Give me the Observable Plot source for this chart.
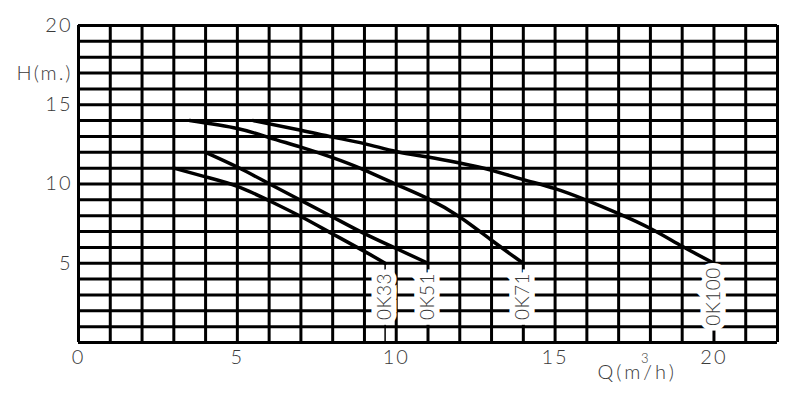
<!DOCTYPE html>
<html>
<head>
<meta charset="utf-8">
<script src="https://cdn.jsdelivr.net/npm/d3@7"></script>
<script src="https://cdn.jsdelivr.net/npm/@observablehq/plot@0.6"></script>
<style>
  html, body { margin: 0; padding: 0; background: #fff; }
  #chart svg { display: block; }
  #chart svg text { font-weight: 300; letter-spacing: 2px; }
  #chart svg g.curve-labels text { letter-spacing: 0.5px; }
  #chart svg g.q-label text { letter-spacing: 3px; }
</style>
</head>
<body>
<div id="chart"></div>
<script>
// Grid / tick values
const xGrid = [0,1,2,3,4,5,6,7,8,9,10,11,12,13,14,15,16,17,18,19,20,21,22];
const yGrid = [0,1,2,3,4,5,6,7,8,9,10,11,12,13,14,15,16,17,18,19,20];
const xTicks = [0, 5, 10, 15, 20];
const yTicks = [5, 10, 15, 20];

// Pump curves (Q in m3/h, H in m)
const ok33Q = [3, 4, 5, 6, 7, 8, 9, 9.65];
const ok33H = [11, 10.45, 9.85, 8.95, 7.95, 6.85, 5.75, 5];
const ok51Q = [4, 5, 6, 7, 8, 9, 10, 11];
const ok51H = [12, 11.07, 10.02, 8.97, 7.92, 6.87, 5.93, 5];
const ok71Q = [3.5, 5, 6, 7, 8, 9, 10, 11, 12, 13, 14];
const ok71H = [14, 13.5, 12.93, 12.33, 11.66, 10.88, 9.98, 9.08, 7.92, 6.45, 5];
const ok100Q = [5.5, 7, 8, 9, 10, 11, 12, 13, 14, 15, 16, 17, 18, 19, 20];
const ok100H = [14, 13.39, 12.96, 12.55, 12.05, 11.7, 11.32, 10.86, 10.28, 9.71, 8.97, 8.13, 7.19, 6.07, 5];

const seriesNames = ["0K33", "0K51", "0K71", "0K100"];
const seriesQ = [ok33Q, ok51Q, ok71Q, ok100Q];
const seriesH = [ok33H, ok51H, ok71H, ok100H];

const rows = [];
seriesNames.forEach((name, i) => {
  seriesQ[i].forEach((q, j) => rows.push({name, q, h: seriesH[i][j]}));
});
const ends = seriesNames.map((name, i) => ({
  name,
  q: seriesQ[i][seriesQ[i].length - 1],
  h: seriesH[i][seriesH[i].length - 1]
}));

const font = "Lato, 'Liberation Sans', Arial, sans-serif";
const textColor = "#3a3a3a";

const chart = Plot.plot({
  width: 800,
  height: 406,
  marginLeft: 78,
  marginRight: 23,
  marginTop: 25,
  marginBottom: 64,
  style: {fontFamily: font, fontSize: "20px", color: textColor, background: "#fff"},
  x: {domain: [0, 22], label: null},
  y: {domain: [0, 20], label: null},
  marks: [
    Plot.ruleX(xGrid, {stroke: "#000", strokeWidth: 3}),
    Plot.ruleY(yGrid, {stroke: "#000", strokeWidth: 3}),
    Plot.line(rows, {x: "q", y: "h", z: "name", stroke: "#000", strokeWidth: 3.5, curve: "natural"}),
    Plot.ruleX(ends, {x: "q", y1: 0, y2: "h", stroke: "#000", strokeWidth: 1.5}),
    Plot.text(ends, {
      x: "q", y: 2.9, text: "name", rotate: -90, className: "curve-labels",
      fontSize: 19, fill: textColor, stroke: "#fff", strokeWidth: 11,
      strokeLinejoin: "miter", paintOrder: "stroke"
    }),
    Plot.axisX(xTicks, {tickSize: 0, tickPadding: 7, fontSize: 20, fill: textColor, label: null}),
    Plot.axisY(yTicks, {tickSize: 0, tickPadding: 6, fontSize: 20, fill: textColor, label: null}),
    Plot.text(["H(m.)"], {frameAnchor: "top-left", dx: -6, dy: 40, textAnchor: "end", fontSize: 20, fill: textColor}),
    Plot.text(["Q(m/h)"], {frameAnchor: "bottom-right", dx: -180, dy: 36, textAnchor: "start", fontSize: 20, fill: textColor, className: "q-label"}),
    Plot.text(["3"], {frameAnchor: "bottom-right", dx: -127, dy: 20, fontSize: 13, fill: textColor})
  ]
});
document.getElementById("chart").appendChild(chart);
</script>
</body>
</html>
